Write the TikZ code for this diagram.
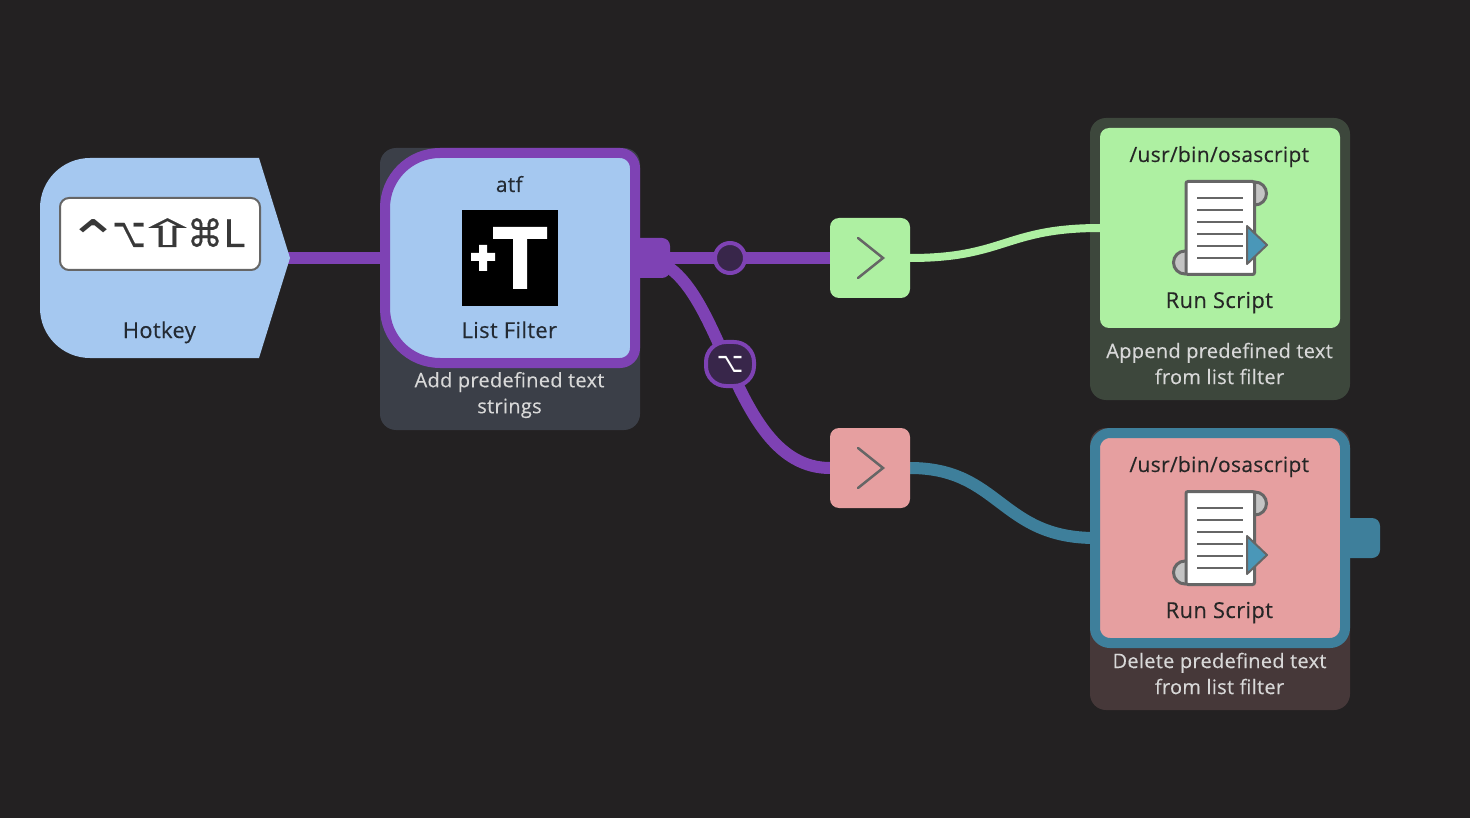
\documentclass[tikz,border=0pt]{standalone}
\usepackage{graphicx}
\usepackage{fontspec}
\setmainfont[LetterSpace=1.5,FakeBold=0.25]{Open Sans}
\newfontfamily\keyfont[FakeBold=0.4]{DejaVu Sans}
\newfontfamily\optfont{DejaVu Sans}
\definecolor{bgc}{HTML}{232122}
\definecolor{lblue}{HTML}{A5C8F0}
\definecolor{purp}{HTML}{7E42B4}
\definecolor{teal}{HTML}{3E7F9B}
\definecolor{lgreen}{HTML}{AEF0A2}
\definecolor{lred}{HTML}{E69FA0}
\definecolor{pgrey}{HTML}{3B3F48}
\definecolor{pgreen}{HTML}{3D473C}
\definecolor{pred}{HTML}{463839}
\definecolor{grayc}{HTML}{666666}
\definecolor{curl}{HTML}{C4C4C4}
\definecolor{tri}{HTML}{4A97B8}
\definecolor{badge}{HTML}{38264A}
\definecolor{ink}{HTML}{232A33}
\definecolor{note}{HTML}{D8D8D8}
\pgfdeclarelayer{panel}
\pgfdeclarelayer{conn}
\pgfsetlayers{panel,conn,main}
\tikzset{
  box/.style={rectangle,inner sep=0pt,outer sep=0pt},
  panelbox/.style={box,rounded corners=16pt,minimum width=260pt,minimum height=282pt},
  actionbox/.style={box,rounded corners=9pt,minimum width=240pt,minimum height=200pt},
  gatebox/.style={box,rounded corners=9pt,minimum width=80pt,minimum height=80pt},
  label/.style={font=\fontsize{22}{26}\selectfont,anchor=base,inner sep=0pt,xshift=-0.7pt},
  pathlabel/.style={font=\fontsize{21}{26}\selectfont,anchor=base,inner sep=0pt,xshift=-0.7pt},
  notetext/.style={font=\fontsize{20}{26}\selectfont,text=note,align=center,inner sep=0pt,xshift=-0.5pt},
  wire/.style={line width=12pt,color=purp},
  chev/.style={draw=grayc,line width=2.5pt,line cap=round,line join=miter},
  port/.style={box,rounded corners=8pt,minimum width=40pt,minimum height=40pt},
}
\newcommand{\scripticon}[1]{%
  \begin{scope}[shift={(0,#1)}]
    \draw[grayc,line width=3pt,fill=curl] (1255,193.5) circle[radius=11.5pt];
    \draw[grayc,line width=3pt,fill=curl] (1185,262.5) circle[radius=11.5pt];
    \draw[grayc,line width=3pt,fill=white,rounded corners=2pt] (1186,181.5) rectangle (1254.5,274.5);
    \foreach \yy in {198,210,222,234,246,258}
      \draw[grayc,line width=2pt] (1197,\yy) -- (1243,\yy);
    \draw[grayc,line width=2pt,fill=tri,line join=round] (1247,226) -- (1267,245) -- (1247,264) -- cycle;
  \end{scope}}
\begin{document}
\begin{tikzpicture}[x=1pt,y=-1pt]
\useasboundingbox (0,0) rectangle (1470,818);
% panels
\begin{pgfonlayer}{panel}
\fill[bgc] (0,0) rectangle (1470,818);
\node[panelbox,fill=pgrey] (panelA) at (510,289) {};
\node[panelbox,fill=pgreen] (panelB) at (1220,259) {};
\node[panelbox,fill=pred] (panelC) at (1220,569) {};
\end{pgfonlayer}
% hotkey
\fill[lblue,rounded corners=50pt] (150,158) -- (40,158) -- (40,358) -- (150,358);
\fill[lblue] (150,158) -- (259,158) -- (290,258) -- (259,358) -- (150,358) -- cycle;
\coordinate (hotkeytip) at (288,258);
\node[box,draw=grayc,line width=2pt,fill=white,rounded corners=9pt,minimum width=200pt,minimum height=72pt] (keys) at (160,234) {};
\node[inner sep=0pt,anchor=base,text=black!78,font=\keyfont\fontsize{38}{40}\selectfont] (keytext) at (161,247) {\makebox[27pt][c]{\raisebox{-12pt}{\scalebox{1.7}[1.4]{\optfont ⌃}}}\makebox[44pt][c]{\scalebox{0.76}[1.1]{⌥}}\makebox[33pt][c]{\scalebox{2.0}[1.0]{⇧}}\makebox[42pt][c]{\scalebox{0.95}[1.0]{⌘}}\makebox[16pt][c]{\scalebox{1.0}[1.0]{L}}};
\node[label,text=ink] (hotkeylabel) at (160,338) {Hotkey};
% list filter
\fill[purp] (650,238) -- (630,238) -- (630,278) -- (650,278);
\node[port,fill=purp] (portA) at (650,258) {};
\draw[purp,line width=10pt,fill=lblue] (510,153) [rounded corners=55pt] -- (385,153) -- (385,363) [rounded corners=15pt] -- (635,363) -- (635,153) -- cycle;
\coordinate (filterW) at (382,258);
\coordinate (filterE) at (640,258);
\node[pathlabel,text=ink] (atflabel) at (510,192) {atf};
\node[box,fill=black,minimum width=96pt,minimum height=96pt] (ticon) at (510,258) {};
\fill[white] (493,227) -- (547,227) -- (547,239) -- (527,239) -- (527,289) -- (513,289) -- (513,239) -- (493,239) -- cycle;
\fill[white] (479,245) -- (487,245) -- (487,253) -- (495,253) -- (495,261) -- (487,261) -- (487,271) -- (479,271) -- (479,261) -- (471,261) -- (471,253) -- (479,253) -- cycle;
\node[label,text=ink] (filterlabel) at (510,338) {List Filter};
\node[notetext] (filternote) at (510,395) {Add predefined text\\strings};
% gates
\node[gatebox,fill=lgreen] (gateA) at (870,258) {};
\node[gatebox,fill=lred] (gateB) at (870,468) {};
\draw[chev] (858,238) -- (883,258) -- (858,278);
\draw[chev] (858,448) -- (883,468) -- (858,488);
% dot and option badge
\node[circle,draw=purp,line width=4pt,fill=badge,minimum size=30pt,inner sep=0pt] (dot) at (730,258) {};
\node[box,draw=purp,line width=4pt,fill=badge,rounded corners=20pt,minimum width=48pt,minimum height=44pt,text=white,font=\optfont\fontsize{28}{28}\selectfont] (opt) at (730,364) {\scalebox{0.82}[1.0]{⌥}};
% append action
\node[actionbox,fill=lgreen] (append) at (1220,228) {};
\node[pathlabel,text=black!85] (appendt) at (1220,162) {/usr/bin/osascript};
\scripticon{0}
\node[label,text=black!85] (appendl) at (1220,308) {Run Script};
\node[notetext] (appendn) at (1220,363.5) {Append predefined text\\from list filter};
% delete action
\node[port,fill=teal] (portC) at (1360,538) {};
\node[box,draw=teal,line width=10pt,fill=lred,rounded corners=15pt,minimum width=250pt,minimum height=210pt] (delete) at (1220,538) {};
\node[pathlabel,text=black!85] (deletet) at (1220,472) {/usr/bin/osascript};
\scripticon{310}
\node[label,text=black!85] (deletel) at (1220,618) {Run Script};
\node[notetext] (deleten) at (1220,673.5) {Delete predefined text\\from list filter};
% connectors
\begin{pgfonlayer}{conn}
\draw[wire] (hotkeytip) -- (filterW);
\draw[wire] (filterE) -- (gateA.west);
\draw[wire] (filterE) .. controls (725,258) and (725,468) .. (gateB.west);
\draw[lgreen,line width=8pt] (gateA.east) .. controls (1005,258) and (1005,228) .. (append.west);
\draw[teal,line width=12pt] (gateB.east) .. controls (1000,468) and (1000,538) .. (delete.west);
\end{pgfonlayer}
\end{tikzpicture}
\end{document}
